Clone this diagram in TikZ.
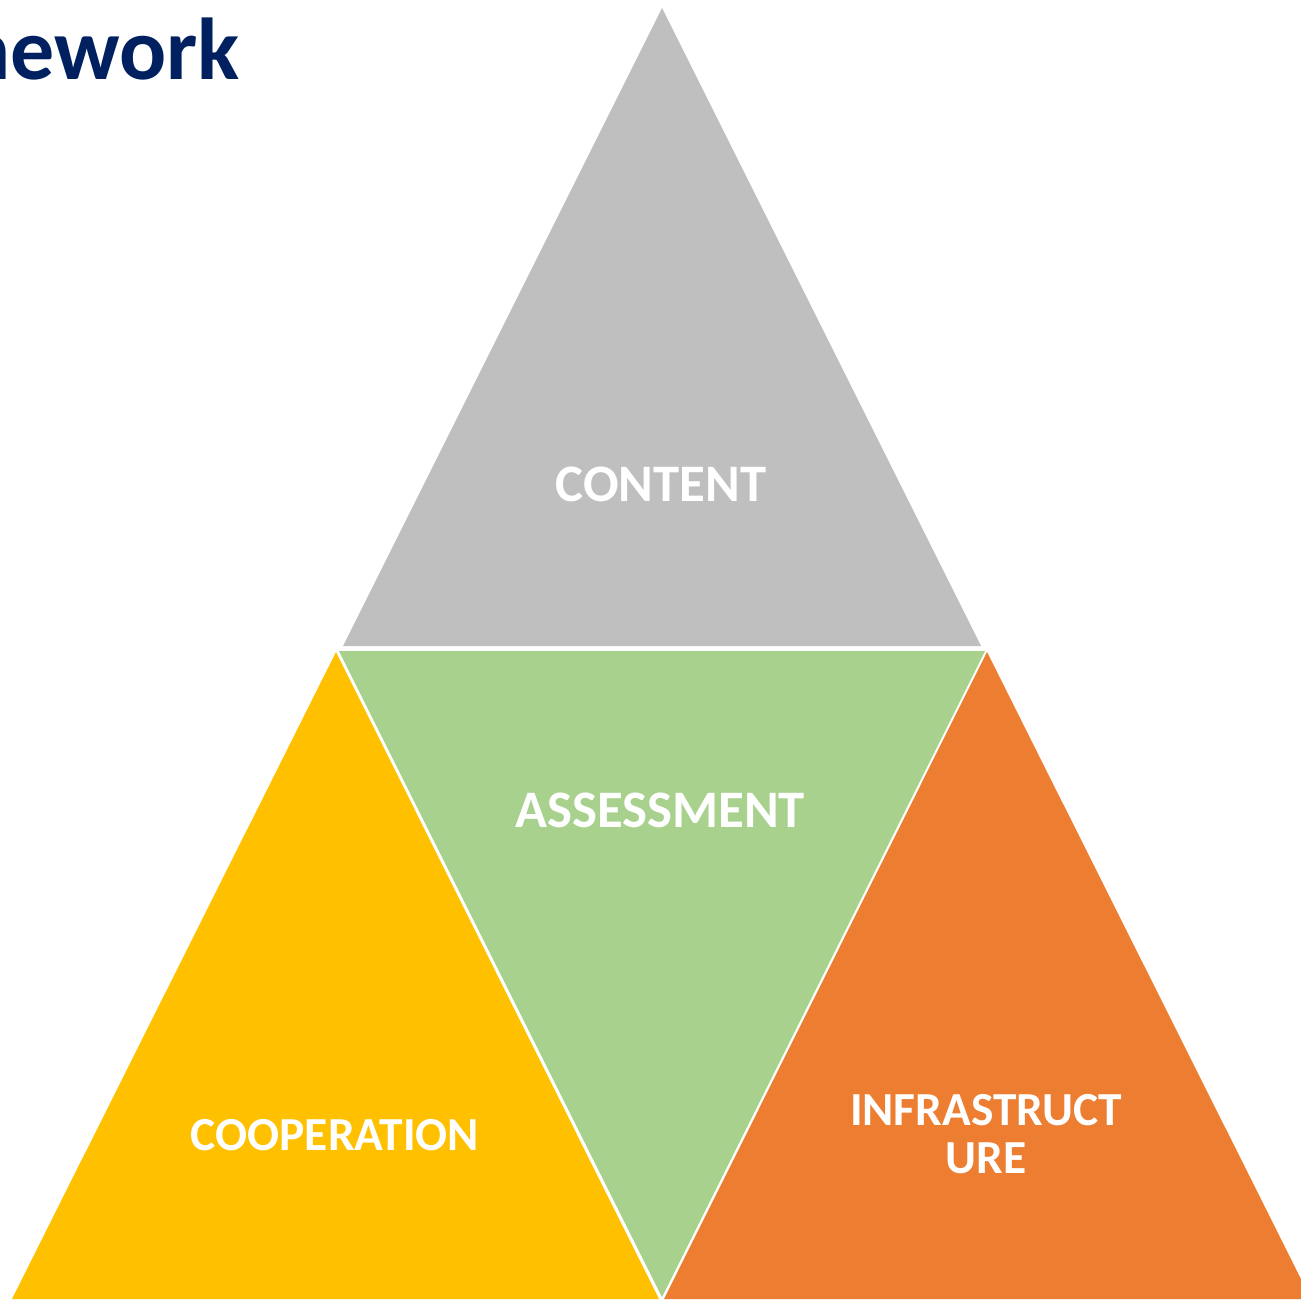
\documentclass[tikz,border=0pt]{standalone}
\usepackage{fontspec}
\setmainfont{Carlito}
\usepackage{xcolor}
\usepackage{tikz}

\definecolor{contentgray}{HTML}{BFBFBF}
\definecolor{assessgreen}{HTML}{A9D18E}
\definecolor{coopyellow}{HTML}{FFC000}
\definecolor{infraorange}{HTML}{ED7D31}
\definecolor{titlenavy}{HTML}{002060}

\begin{document}
\begin{tikzpicture}[x=0.02cm, y=-0.02cm,
  bigword/.style={text=white, inner sep=0pt, anchor=base, font=\bfseries\fontsize{30}{36}\selectfont},
  smallword/.style={text=white, inner sep=0pt, anchor=base, align=center, font=\bfseries\fontsize{27}{27.2}\selectfont}]
\useasboundingbox (0,0) rectangle (1301,1299);

% Title, cut off at the left edge
\node[anchor=base east, inner sep=0pt, text=titlenavy, font=\bfseries\fontsize{50}{60}\selectfont] (title) at (240,79) {nework};

% Top triangle
\fill[contentgray] (662,8) -- (981,646) -- (343,646) -- cycle;
\node[bigword] (content) at (661,501) {CONTENT};

% Middle (upside down) triangle
\fill[assessgreen] (339,651) -- (985,651) -- (662,1297) -- cycle;
\node[bigword] (assessment) at (660,827) {ASSESSMENT};

% Bottom left triangle
\fill[coopyellow] (336,652) -- (659,1299) -- (12,1299) -- cycle;
\node[smallword] (cooperation) at (335,1150) {COOPERATION};

% Bottom right triangle (base line of the last row)
\fill[infraorange] (987,652) -- (1311,1299) -- (664,1299) -- cycle;
\node[smallword] (infrastructure) at (986,1173) {INFRASTRUCT\\URE};
\end{tikzpicture}
\end{document}
